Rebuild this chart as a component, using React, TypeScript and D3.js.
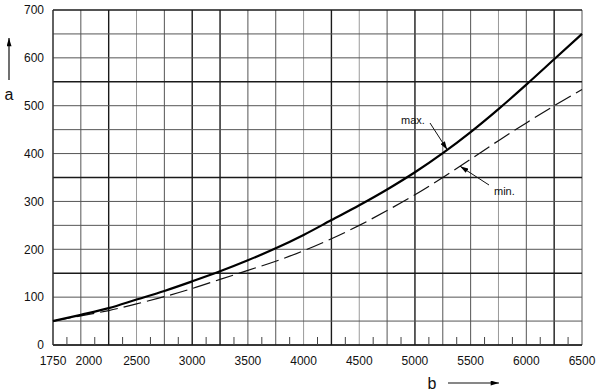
import React, { useEffect, useRef } from 'react';
import * as d3 from 'd3';

// b values (x axis) every 250
const bValues = [1750, 2000, 2250, 2500, 2750, 3000, 3250, 3500, 3750, 4000, 4250, 4500, 4750, 5000, 5250, 5500, 5750, 6000, 6250, 6500];
const maxValues = [50, 63, 77, 95, 113, 133, 154, 177, 202, 230, 261, 292, 325, 361, 401, 445, 493, 544, 597, 650];
const minValues = [50, 61, 72, 86, 101, 118, 137, 156, 175, 197, 222, 250, 281, 314, 350, 388, 427, 464, 500, 534];

const xTickLabels = [1750, 2000, 2500, 3000, 3500, 4000, 4500, 5000, 5500, 6000, 6500];
const yTickLabels = [0, 100, 200, 300, 400, 500, 600, 700];
const xGrid = d3.range(1750, 6501, 250);
const yGrid = d3.range(0, 701, 50);
const xMinorTicks = d3.range(1875, 6500, 250);
const xDarkGrid = [2250, 3000, 3250, 4250, 5000, 6250];
const xLightGrid = [2500, 4000, 4500, 5750];
const yDarkGrid = [150, 350, 550];

const W = 615;
const H = 391;
const FONT = '"Liberation Sans", Arial, sans-serif';

const App = () => {
  const svgRef = useRef<SVGSVGElement>(null);

  useEffect(() => {
    const svg = d3.select(svgRef.current);
    svg.selectAll('*').remove();

    const x = d3.scaleLinear().domain([1750, 6500]).range([53, 582]);
    const y = d3.scaleLinear().domain([0, 700]).range([345, 10]);

    const defs = svg.append('defs');
    defs.append('marker')
      .attr('id', 'tip')
      .attr('viewBox', '0 0 10 6')
      .attr('refX', 10)
      .attr('refY', 3)
      .attr('markerWidth', 9)
      .attr('markerHeight', 5)
      .attr('markerUnits', 'userSpaceOnUse')
      .attr('orient', 'auto')
      .append('path')
      .attr('d', 'M0,0 L10,3 L0,6 Z')
      .attr('fill', '#000');

    // grid
    const grid = svg.append('g');
    grid.selectAll('line.v')
      .data(xGrid)
      .join('line')
      .attr('x1', d => x(d)).attr('x2', d => x(d))
      .attr('y1', y(700)).attr('y2', y(0))
      .attr('stroke', d => xDarkGrid.includes(d) ? '#1a1a1a' : xLightGrid.includes(d) ? '#9a9a9a' : '#555')
      .attr('stroke-width', d => xDarkGrid.includes(d) ? 1.4 : 1);
    grid.selectAll('line.h')
      .data(yGrid)
      .join('line')
      .attr('x1', x(1750)).attr('x2', x(6500))
      .attr('y1', d => y(d)).attr('y2', d => y(d))
      .attr('stroke', d => yDarkGrid.includes(d) || d === 700 ? '#1a1a1a' : '#555')
      .attr('stroke-width', d => yDarkGrid.includes(d) || d === 700 ? 1.4 : 1);

    // axes frame
    svg.append('line')
      .attr('x1', x(1750)).attr('x2', x(6500))
      .attr('y1', y(0)).attr('y2', y(0))
      .attr('stroke', '#111').attr('stroke-width', 1.6);
    svg.append('line')
      .attr('x1', x(1750)).attr('x2', x(1750))
      .attr('y1', y(0)).attr('y2', y(700))
      .attr('stroke', '#333').attr('stroke-width', 1.2);

    // minor ticks on x axis
    svg.append('g')
      .selectAll('line')
      .data(xMinorTicks)
      .join('line')
      .attr('x1', d => x(d)).attr('x2', d => x(d))
      .attr('y1', y(0)).attr('y2', y(0) - 8)
      .attr('stroke', '#444').attr('stroke-width', 1);

    // tick labels
    svg.append('g')
      .selectAll('text')
      .data(xTickLabels)
      .join('text')
      .attr('x', d => x(d) + (d === 2000 ? 8 : 0))
      .attr('y', 365)
      .attr('text-anchor', 'middle')
      .attr('font-family', FONT)
      .attr('font-size', 12)
      .attr('fill', '#111')
      .text(d => d);

    svg.append('g')
      .selectAll('text')
      .data(yTickLabels)
      .join('text')
      .attr('x', 44)
      .attr('y', d => y(d))
      .attr('dy', '0.36em')
      .attr('text-anchor', 'end')
      .attr('font-family', FONT)
      .attr('font-size', 12)
      .attr('fill', '#111')
      .text(d => d);

    // curves
    const maxData = bValues.map((b, i) => [b, maxValues[i]] as [number, number]);
    const minData = bValues.map((b, i) => [b, minValues[i]] as [number, number]);
    const line = d3.line<[number, number]>()
      .x(d => x(d[0]))
      .y(d => y(d[1]))
      .curve(d3.curveMonotoneX);

    svg.append('path')
      .attr('d', line(minData))
      .attr('fill', 'none')
      .attr('stroke', '#111')
      .attr('stroke-width', 1.2)
      .attr('stroke-dasharray', '18,6');

    svg.append('path')
      .attr('d', line(maxData))
      .attr('fill', 'none')
      .attr('stroke', '#000')
      .attr('stroke-width', 2.2);

    // annotations
    svg.append('line')
      .attr('x1', 430).attr('y1', 123)
      .attr('x2', x(5290)).attr('y2', y(academicMax(5290)))
      .attr('stroke', '#111').attr('stroke-width', 1)
      .attr('marker-end', 'url(#tip)');
    svg.append('text')
      .attr('x', 401).attr('y', 124)
      .attr('font-family', FONT).attr('font-size', 11)
      .attr('fill', '#111')
      .text('max.');

    svg.append('line')
      .attr('x1', 489).attr('y1', 185)
      .attr('x2', x(5405)).attr('y2', y(academicMin(5405)))
      .attr('stroke', '#111').attr('stroke-width', 1)
      .attr('marker-end', 'url(#tip)');
    svg.append('text')
      .attr('x', 494).attr('y', 195)
      .attr('font-family', FONT).attr('font-size', 11)
      .attr('fill', '#111')
      .text('min.');

    // axis titles with arrows
    svg.append('text')
      .attr('x', 9).attr('y', 100)
      .attr('text-anchor', 'middle')
      .attr('font-family', FONT).attr('font-size', 16)
      .attr('fill', '#111')
      .text('a');
    svg.append('line')
      .attr('x1', 9).attr('y1', 80)
      .attr('x2', 9).attr('y2', 38)
      .attr('stroke', '#111').attr('stroke-width', 1.2)
      .attr('marker-end', 'url(#tip)');

    svg.append('text')
      .attr('x', 432).attr('y', 389)
      .attr('text-anchor', 'middle')
      .attr('font-family', FONT).attr('font-size', 16)
      .attr('fill', '#111')
      .text('b');
    svg.append('line')
      .attr('x1', 448).attr('y1', 383)
      .attr('x2', 499).attr('y2', 383)
      .attr('stroke', '#111').attr('stroke-width', 1.2)
      .attr('marker-end', 'url(#tip)');

    function interp(vals: number[], b: number) {
      return d3.scaleLinear().domain(bValues).range(vals)(b);
    }
    function academicMax(b: number) { return interp(maxValues, b); }
    function academicMin(b: number) { return interp(minValues, b); }
  }, []);

  return (
    <svg
      ref={svgRef}
      width={W}
      height={H}
      style={{ position: 'absolute', left: 0, top: 0, background: '#fff', display: 'block' }}
    />
  );
};

export default App;
